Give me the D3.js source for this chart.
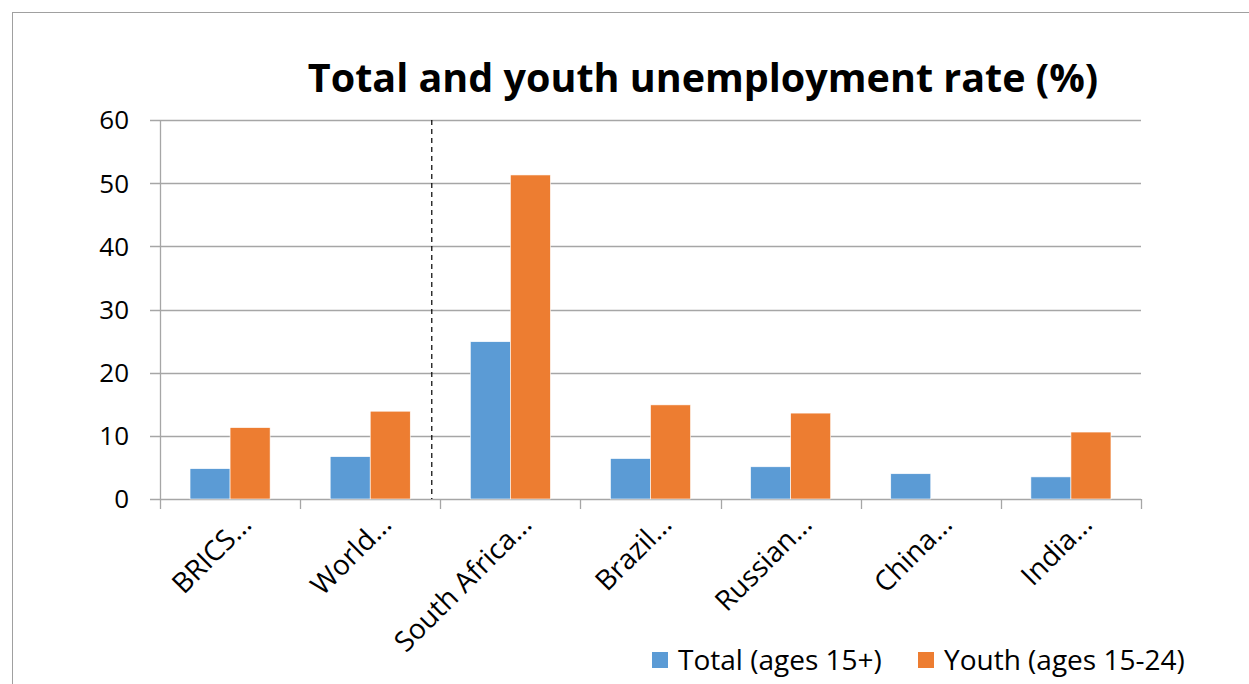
<!DOCTYPE html>
<html>
<head>
<meta charset="utf-8">
<script src="https://cdn.jsdelivr.net/npm/d3@7"></script>
<style>
  body { margin: 0; background: #fff; }
  svg { display: block; font-family: 'Open Sans', Lato, sans-serif; }
</style>
</head>
<body>
<svg id="chart" width="1249" height="684"></svg>
<script>
// categories + values
var categories = ['BRICS…', 'World…', 'South Africa…', 'Brazil…', 'Russian…', 'China…', 'India…']
var totalRate = [4.8, 6.7, 24.9, 6.4, 5.1, 4.0, 3.5]
var youthRate = [11.3, 13.9, 51.3, 14.9, 13.6, null, 10.6]
var seriesNames = ['Total (ages 15+)', 'Youth (ages 15-24)']
var colors = ['#5B9BD5', '#ED7D31']
var yTicks = [0, 10, 20, 30, 40, 50, 60]
var title = 'Total and youth unemployment rate (%)'

var rows = categories.map((c, i) => ({cat: c, vals: [totalRate[i], youthRate[i]]}))

var svg = d3.select('#chart')

// outer chart border, runs off the right/bottom
svg.append('rect')
  .attr('x', 12.5).attr('y', 12.5)
  .attr('width', 1260).attr('height', 700)
  .attr('fill', 'none').attr('stroke', '#a0a0a0').attr('stroke-width', 1)

var margin = {left: 160, right: 108, top: 120, bottom: 185}
var W = 1249, H = 684

var x0 = d3.scaleBand().domain(categories)
  .range([margin.left, W - margin.right]).padding(0)
var x1 = d3.scaleBand().domain([0, 1])
  .range([0, x0.bandwidth()]).paddingInner(0).paddingOuter(0.75)
var y = d3.scaleLinear().domain([0, 60]).range([H - margin.bottom, margin.top])

// gridlines
svg.append('g')
  .selectAll('line').data(yTicks).join('line')
  .attr('x1', margin.left - 10).attr('x2', W - margin.right)
  .attr('y1', d => Math.round(y(d)) + 0.5).attr('y2', d => Math.round(y(d)) + 0.5)
  .attr('stroke', '#a6a6a6').attr('stroke-width', 1.3)

// y labels
svg.append('g')
  .selectAll('text').data(yTicks).join('text')
  .attr('x', 129).attr('y', d => y(d))
  .attr('dy', '0.36em').attr('text-anchor', 'end')
  .attr('font-size', 26).attr('fill', '#000')
  .text(d => d)

// y axis line
svg.append('line')
  .attr('x1', margin.left + 0.5).attr('x2', margin.left + 0.5)
  .attr('y1', y(60)).attr('y2', y(0))
  .attr('stroke', '#a6a6a6').attr('stroke-width', 1.3)

// category tick marks
var bounds = categories.map(c => x0(c)).concat([W - margin.right])
svg.append('g')
  .selectAll('line').data(bounds).join('line')
  .attr('x1', d => Math.round(d) + 0.5).attr('x2', d => Math.round(d) + 0.5)
  .attr('y1', y(0)).attr('y2', y(0) + 10)
  .attr('stroke', '#a6a6a6').attr('stroke-width', 1.3)

// bars
var groups = svg.append('g')
  .selectAll('g').data(rows).join('g')
  .attr('transform', d => `translate(${x0(d.cat)},0)`)

groups.selectAll('rect')
  .data(d => d.vals.map((v, i) => ({v, i})).filter(d => d.v != null))
  .join('rect')
  .attr('x', d => x1(d.i))
  .attr('width', x1.bandwidth())
  .attr('y', d => y(d.v))
  .attr('height', d => y(0) - y(d.v))
  .attr('fill', d => colors[d.i])
  .attr('stroke', '#fff').attr('stroke-width', 0.6)

// dashed divider between World and the BRICS countries
var divX = x0(categories[2]) - 9
svg.append('line')
  .attr('x1', divX + 0.5).attr('x2', divX + 0.5)
  .attr('y1', y(60)).attr('y2', y(0))
  .attr('stroke', '#000').attr('stroke-width', 1.2)
  .attr('stroke-dasharray', '5,4')

// x labels, rotated
svg.append('g')
  .selectAll('text').data(categories).join('text')
  .attr('transform', d => `translate(${x0(d) + x0.bandwidth() / 2 + 23},${y(0) + 27}) rotate(-45)`)
  .attr('text-anchor', 'end')
  .attr('font-size', 28).attr('fill', '#000')
  .text(d => d)

// title
svg.append('text')
  .attr('x', 703).attr('y', 92)
  .attr('text-anchor', 'middle')
  .attr('font-size', 39.5).attr('font-weight', 'bold')
  .text(title)

// legend
var legX = [652, 918]
var leg = svg.append('g')
  .selectAll('g').data(seriesNames).join('g')
  .attr('transform', (d, i) => `translate(${legX[i]},652)`)
leg.append('rect')
  .attr('width', 16).attr('height', 16)
  .attr('fill', (d, i) => colors[i])
leg.append('text')
  .attr('x', 26).attr('y', 8).attr('dy', '0.36em')
  .attr('font-size', 28)
  .text(d => d)
</script>
</body>
</html>
